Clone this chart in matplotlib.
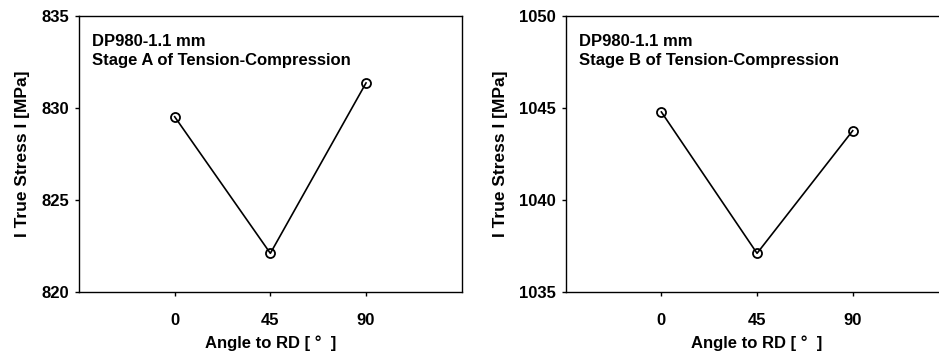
import matplotlib.pyplot as plt

# Data
angles = [0, 45, 90]
stress_a = [829.53, 822.09, 831.37]
stress_b = [1044.79, 1037.09, 1043.77]
yticks_a = [820, 825, 830, 835]
yticks_b = [1035, 1040, 1045, 1050]
labels = ["DP980-1.1 mm\nStage A of Tension-Compression",
          "DP980-1.1 mm\nStage B of Tension-Compression"]

plt.rcParams['font.family'] = ['Liberation Sans', 'DejaVu Sans']
plt.rcParams['font.weight'] = 'bold'

fig = plt.figure(figsize=(9.39, 3.58), dpi=100)
W, H = 939.0, 358.0

# axes boxes in pixels: left, top, right, bottom
boxes = [(79, 16.3, 461.7, 291.7), (565.7, 16.3, 948.4, 291.7)]

for box, ys, yt, txt in zip(boxes, [stress_a, stress_b], [yticks_a, yticks_b], labels):
    l, t, r, b = box
    ax = fig.add_axes([l / W, 1 - b / H, (r - l) / W, (b - t) / H])
    ax.plot(angles, ys, color='black', lw=1.2, marker='o', markersize=6.5,
            markerfacecolor='none', markeredgecolor='black', markeredgewidth=1.3)
    ax.set_xlim(-45, 135)
    ax.set_ylim(yt[0], yt[-1])
    ax.set_xticks(angles)
    ax.set_yticks(yt)
    ax.tick_params(direction='out', length=3, width=1, labelsize=12)
    ax.tick_params(axis='x', pad=12)
    ax.tick_params(axis='y', pad=4)
    for s in ax.spines.values():
        s.set_linewidth(1.0)
    ax.set_xlabel("Angle to RD [ °  ]", fontsize=12, fontweight='bold', labelpad=6)
    ax.set_ylabel("I True Stress I [MPa]", fontsize=12.5, fontweight='bold', labelpad=8)
    ax.text(0.035, 0.935, txt, transform=ax.transAxes, fontsize=12, fontweight='bold',
            va='top', ha='left', linespacing=1.3)

fig.savefig("out.png", dpi=100)
